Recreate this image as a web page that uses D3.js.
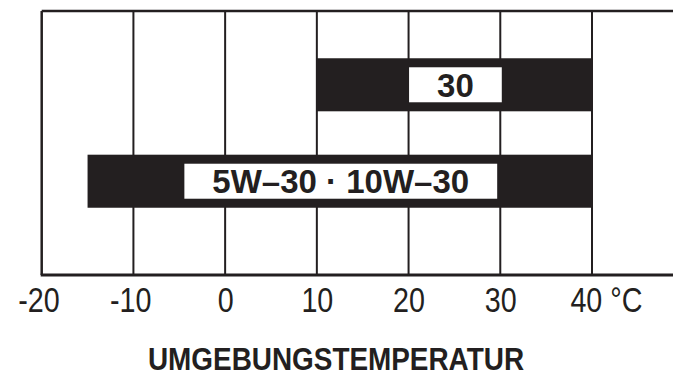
<!DOCTYPE html>
<html>
<head>
<meta charset="utf-8">
<script src="https://cdn.jsdelivr.net/npm/d3@7"></script>
<style>
  body { margin: 0; background: #fff; }
  svg { display: block; }
</style>
</head>
<body>
<div id="chart"></div>
<script>
// viscosity grades and their temperature ranges (°C)
var grades = ["30", "5W\u201330 \u00b7 10W\u201330"];
var tempFrom = [10, -15];
var tempTo = [40, 40];
var tickValues = [-20, -10, 0, 10, 20, 30, 40];
var axisTitle = "UMGEBUNGSTEMPERATUR";

var W = 673, H = 385;
var mLeft = 41.7, mRight = 592, mTop = 11, mBottom = 275;
var ink = "#231f20";
var font = "'Liberation Sans', Arial, sans-serif";

var svg = d3.select("#chart").append("svg").attr("width", W).attr("height", H)

var xs = d3.scaleLinear().domain([-20, 40]).range([mLeft, mRight]);
var ys = d3.scaleBand().domain(grades).range([mTop, 255]).paddingInner(0.45).paddingOuter(0.49);

// grid lines
svg.append("g")
  .selectAll("line")
  .data(tickValues.slice(1))
  .enter()
  .append("line")
  .attr("x1", d => xs(d)).attr("x2", d => xs(d))
  .attr("y1", mTop).attr("y2", mBottom)
  .attr("stroke", ink).attr("stroke-width", 2);

// frame: top + left
svg.append("line").attr("x1", mLeft).attr("x2", W).attr("y1", mTop).attr("y2", mTop)
  .attr("stroke", ink).attr("stroke-width", 2.5);
svg.append("line").attr("x1", mLeft).attr("x2", mLeft).attr("y1", mTop).attr("y2", mBottom)
  .attr("stroke", ink).attr("stroke-width", 2.5);

// bars
var bars = svg.append("g").selectAll("g")
  .data(grades)
  .enter()
  .append("g");

bars.append("rect")
  .attr("x", (d, i) => xs(tempFrom[i]))
  .attr("width", (d, i) => xs(tempTo[i]) - xs(tempFrom[i]))
  .attr("y", d => ys(d))
  .attr("height", ys.bandwidth())
  .attr("fill", ink);

var boxes = bars.append("rect").attr("fill", "#fff");

var labels = bars.append("text")
  .attr("x", (d, i) => (xs(tempFrom[i]) + xs(tempTo[i])) / 2 + 1)
  .attr("y", d => ys(d) + ys.bandwidth() / 2)
  .attr("dy", "0.36em")
  .attr("text-anchor", "middle")
  .style("font-family", font)
  .style("font-weight", "bold")
  .style("font-size", "33px")
  .attr("fill", ink)
  .text(d => d);

labels.each(function (d, i) {
  var bb = this.getBBox();
  d3.select(boxes.nodes()[i])
    .attr("x", bb.x - 28)
    .attr("width", bb.width + 56)
    .attr("y", ys(d) + ys.bandwidth() / 2 - 17.5)
    .attr("height", 35);
});

// x axis
var xAxis = svg.append("g")
  .attr("transform", "translate(0," + mBottom + ")")
  .call(d3.axisBottom(xs).tickValues(tickValues).tickSize(0).tickPadding(12)
    .tickFormat(d => d === 40 ? "40 \u00b0C" : d));
xAxis.select(".domain").remove();
xAxis.append("line").attr("x1", mLeft - 1).attr("x2", W).attr("y1", 0).attr("y2", 0)
  .attr("stroke", ink).attr("stroke-width", 3);
xAxis.selectAll(".tick text")
  .style("font-family", font)
  .style("font-size", "35px")
  .attr("fill", ink)
  .attr("dx", d => d === 40 ? "17" : d < 0 ? "-4" : "0")
  .attr("transform", "scale(0.82,1)");

svg.append("text")
  .attr("transform", "translate(336,370) scale(0.9,1)")
  .attr("text-anchor", "middle")
  .style("font-family", font)
  .style("font-weight", "bold")
  .style("font-size", "31px")
  .attr("fill", ink)
  .text(axisTitle);
</script>
</body>
</html>
